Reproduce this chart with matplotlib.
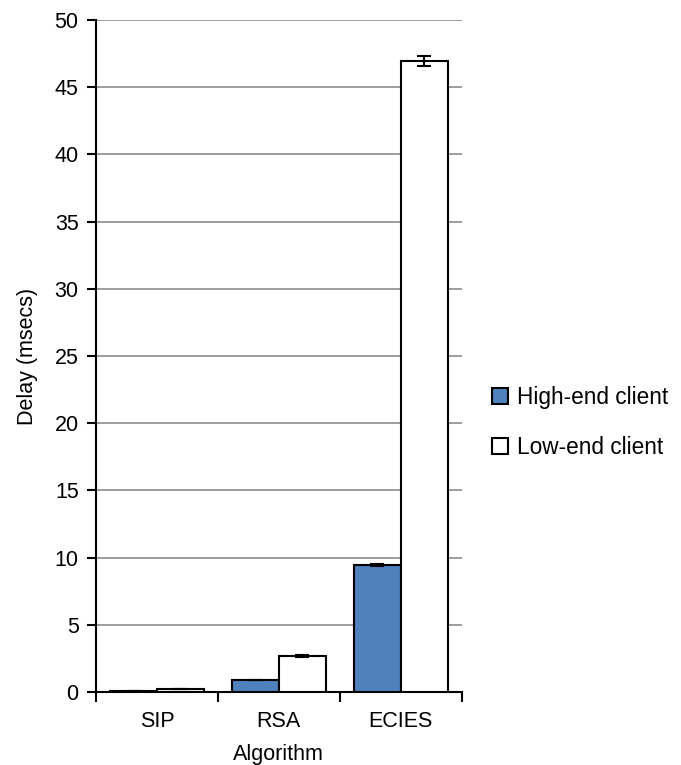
import numpy as np
import matplotlib.pyplot as plt
from matplotlib.patches import Patch

plt.rcParams['font.family'] = ['Liberation Sans', 'DejaVu Sans']

algorithms = ['SIP', 'RSA', 'ECIES']
high_end = [0.1, 0.9, 9.45]
low_end = [0.25, 2.68, 46.95]
high_err = [0.0, 0.0, 0.05]
low_err = [0.0, 0.05, 0.35]

blue = '#4f81bd'
fs = 15.5

fig = plt.figure(figsize=(6.81, 7.65), dpi=100)
ax = fig.add_axes([0.141, 0.0954, 0.537, 0.8786])

x = np.arange(len(algorithms)) + 0.5
w = 0.385
ax.bar(x - w / 2, high_end, w, color=blue, edgecolor='black', linewidth=1.5,
       yerr=high_err, error_kw=dict(ecolor='black', capsize=5, elinewidth=1.5, capthick=1.5), zorder=3)
ax.bar(x + w / 2, low_end, w, color='white', edgecolor='black', linewidth=1.5,
       yerr=low_err, error_kw=dict(ecolor='black', capsize=5, elinewidth=1.5, capthick=1.5), zorder=3)

ax.set_xlim(0, 3)
ax.set_ylim(0, 50)
ax.set_yticks(np.arange(0, 51, 5))
ax.yaxis.grid(True, color='#8c8c8c', linewidth=1.2, zorder=0)
ax.set_axisbelow(True)

# ticks at group borders, labels at group centres
ax.set_xticks([0, 1, 2, 3])
ax.set_xticklabels([])
ax.set_xticks(x, minor=True)
ax.set_xticklabels(algorithms, minor=True, fontsize=fs)
ax.tick_params(axis='x', which='minor', length=0, pad=14)
ax.tick_params(axis='x', which='major', length=7, width=1.5, direction='out')
ax.tick_params(axis='y', length=6.5, width=1.5, direction='out', labelsize=fs, pad=6)

for s in ['top', 'right']:
    ax.spines[s].set_visible(False)
for s in ['left', 'bottom']:
    ax.spines[s].set_linewidth(1.5)

ax.set_xlabel('Algorithm', fontsize=fs, labelpad=8)
ax.set_ylabel('Delay (msecs)', fontsize=fs, labelpad=12)

handles = [Patch(facecolor=blue, edgecolor='black', linewidth=1.5, label='High-end client'),
           Patch(facecolor='white', edgecolor='black', linewidth=1.5, label='Low-end client')]
fig.legend(handles=handles, loc='center left', bbox_to_anchor=(0.693, 0.448), frameon=False,
           fontsize=16.3, handlelength=0.68, handleheight=0.68, handletextpad=0.4, labelspacing=1.2)

fig.savefig('out.png', dpi=100)
